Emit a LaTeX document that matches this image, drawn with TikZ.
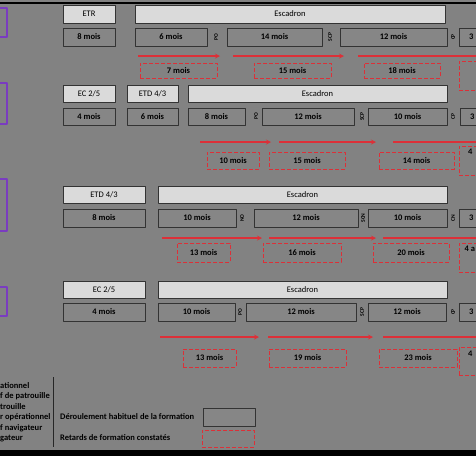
\documentclass[tikz,border=0pt]{standalone}
\usepackage{fontspec}
\setmainfont{Carlito}
\definecolor{fond}{HTML}{828282}
\definecolor{gclair}{HTML}{DADADA}
\definecolor{gmois}{HTML}{868686}
\definecolor{rouge}{HTML}{DC3038}
\definecolor{violet}{HTML}{7A3CC0}
\begin{document}
\begin{tikzpicture}[x=1pt, y=-1pt, >=stealth, line join=round,
  cadre/.style={draw=black!80, line width=0.8pt, inner sep=0pt, font=\fontsize{8.5}{9}\selectfont},
  clair/.style={cadre, fill=gclair},
  mois/.style={cadre, fill=gmois, font=\fontsize{8.5}{9}\selectfont\bfseries},
  retard/.style={draw=rouge, line width=0.9pt, dash pattern=on 4pt off 2pt, inner sep=0pt, font=\fontsize{8.5}{9}\selectfont\bfseries},
  sigle/.style={rotate=90, inner sep=0pt, font=\fontsize{5.5}{6}\selectfont\bfseries},
  fleche/.style={->, draw=rouge, line width=1.2pt},
  legende/.style={anchor=west, inner sep=0pt, font=\fontsize{8.5}{9}\selectfont\bfseries}]
\useasboundingbox (0,0) rectangle (476,456);
\clip (0,0) rectangle (476,456);
\fill[fond] (0,0) rectangle (476,456);
\draw[line width=2pt] (0,3) -- (476,3);
\fill (0,450) rectangle (476,456);
% cadres violets coupes a gauche
\draw[violet, line width=1.3pt] (-10,8) rectangle (7,37);
\draw[violet, line width=1.3pt] (-10,83) rectangle (7,124);
\draw[violet, line width=1.3pt] (-10,179) rectangle (7,231);
\draw[violet, line width=1.3pt] (-10,287) rectangle (7,316);
% ligne 1
\node[clair, minimum width=52, minimum height=18] (etrA) at (89,14) {ETR};
\node[clair, minimum width=310, minimum height=18] (escA) at (290,14) {Escadron};
\node[mois, minimum width=52, minimum height=18] (moisAa) at (89,37) {8 mois};
\node[mois, minimum width=72, minimum height=18] (moisAb) at (171,37) {6 mois};
\node[sigle] (poA) at (216,37) {PO};
\node[mois, minimum width=95, minimum height=18] (moisAc) at (274.5,37) {14 mois};
\node[sigle] (scpA) at (330,37) {SCP};
\node[mois, minimum width=107, minimum height=18] (moisAd) at (393.5,37) {12 mois};
\node[sigle] (cpA) at (453,37) {CP};
\node[mois, minimum width=41, minimum height=18, text width=21, align=left] (moisAe) at (479.5,37) {3};
\draw[fleche] (138,56) -- (220,56);
\draw[fleche] (233,56) -- (344,56);
\draw[fleche] (358,56) -- (490,56);
\node[retard, minimum width=77, minimum height=15] (retAa) at (178.5,70.5) {7 mois};
\node[retard, minimum width=77, minimum height=15] (retAb) at (292.5,70.5) {15 mois};
\node[retard, minimum width=76, minimum height=15] (retAc) at (402,70.5) {18 mois};
\node[retard, minimum width=40, minimum height=29] (retAd) at (479,75.5) {};
% ligne 2
\node[clair, minimum width=52, minimum height=17] (ecB) at (89,93.5) {EC 2/5};
\node[clair, minimum width=51, minimum height=17] (etdB) at (152.5,93.5) {ETD 4/3};
\node[clair, minimum width=259, minimum height=17] (escB) at (317.5,93.5) {Escadron};
\node[mois, minimum width=52, minimum height=17] (moisBa) at (89,116.5) {4 mois};
\node[mois, minimum width=51, minimum height=17] (moisBb) at (152.5,116.5) {6 mois};
\node[mois, minimum width=57, minimum height=17] (moisBc) at (216.5,116.5) {8 mois};
\node[sigle] (poB) at (256,116.5) {PO};
\node[mois, minimum width=92, minimum height=17] (moisBd) at (308,116.5) {12 mois};
\node[sigle] (scpB) at (362,116.5) {SCP};
\node[mois, minimum width=79, minimum height=17] (moisBe) at (407.5,116.5) {10 mois};
\node[sigle] (cpB) at (453,116.5) {CP};
\node[mois, minimum width=41, minimum height=17, text width=21, align=left] (moisBf) at (480.5,116.5) {3};
\draw[fleche] (200,142) -- (271,142);
\draw[fleche] (279,142) -- (376,142);
\draw[fleche] (393,142) -- (490,142);
\node[retard, minimum width=52, minimum height=17] (retBa) at (233,160.5) {10 mois};
\node[retard, minimum width=76, minimum height=17] (retBb) at (307,160.5) {15 mois};
\node[retard, minimum width=75, minimum height=17] (retBc) at (416.5,160.5) {14 mois};
\node[retard, minimum width=40, minimum height=29] (retBd) at (479,160.5) {};
\node[legende, anchor=north west] (txtBd) at (468,149) {4};
% ligne 3
\node[clair, minimum width=82, minimum height=17] (etdC) at (104,195) {ETD 4/3};
\node[clair, minimum width=289, minimum height=17] (escC) at (302.5,195) {Escadron};
\node[mois, minimum width=82, minimum height=18] (moisCa) at (104,218) {8 mois};
\node[mois, minimum width=78, minimum height=18] (moisCb) at (197,218) {10 mois};
\node[sigle] (noC) at (242,218) {NO};
\node[mois, minimum width=104, minimum height=18] (moisCc) at (306,218) {12 mois};
\node[sigle] (scnC) at (363,218) {SCN};
\node[mois, minimum width=79, minimum height=18] (moisCd) at (407.5,218) {10 mois};
\node[sigle] (cnC) at (453,218) {CN};
\node[mois, minimum width=41, minimum height=18, text width=21, align=left] (moisCe) at (479.5,218) {3};
\draw[fleche] (162,238) -- (262,238);
\draw[fleche] (269,238) -- (376,238);
\draw[fleche] (383,238) -- (490,238);
\node[retard, minimum width=53, minimum height=19] (retCa) at (203.5,252.5) {13 mois};
\node[retard, minimum width=78, minimum height=19] (retCb) at (302,252.5) {16 mois};
\node[retard, minimum width=76, minimum height=19] (retCc) at (411,252.5) {20 mois};
\node[retard, minimum width=40, minimum height=29] (retCd) at (479,257.5) {};
\node[legende, anchor=north west] (txtCd) at (464.5,246) {4 a};
% ligne 4
\node[clair, minimum width=82, minimum height=17] (ecD) at (104,289.5) {EC 2/5};
\node[clair, minimum width=289, minimum height=17] (escD) at (302.5,289.5) {Escadron};
\node[mois, minimum width=82, minimum height=18] (moisDa) at (104,312) {4 mois};
\node[mois, minimum width=77, minimum height=18] (moisDb) at (196.5,312) {10 mois};
\node[sigle] (poD) at (240,312) {PO};
\node[mois, minimum width=110, minimum height=18] (moisDc) at (301,312) {12 mois};
\node[sigle] (scpD) at (362,312) {SCP};
\node[mois, minimum width=78, minimum height=18] (moisDd) at (407,312) {12 mois};
\node[sigle] (cpD) at (453,312) {CP};
\node[mois, minimum width=41, minimum height=18, text width=21, align=left] (moisDe) at (479.5,312) {3};
\draw[fleche] (160,337) -- (259,337);
\draw[fleche] (268,337) -- (373,337);
\draw[fleche] (383,337) -- (490,337);
\node[retard, minimum width=53, minimum height=18] (retDa) at (209.5,358) {13 mois};
\node[retard, minimum width=77, minimum height=18] (retDb) at (307.5,358) {19 mois};
\node[retard, minimum width=78, minimum height=18] (retDc) at (418,358) {23 mois};
\node[retard, minimum width=40, minimum height=28] (retDd) at (479,361) {};
\node[legende, anchor=north west] (txtDd) at (468,351) {4};
% legende
\node[legende] (sigA) at (0,386) {ationnel};
\node[legende] (sigB) at (0,396.5) {f de patrouille};
\node[legende] (sigC) at (0,407) {trouille};
\node[legende] (sigD) at (0,417.5) {r opérationnel};
\node[legende] (sigE) at (0,428) {f navigateur};
\node[legende] (sigF) at (0,439) {gateur};
\draw[line width=0.9pt, black!85] (53,377) -- (53,447);
\node[legende] (legA) at (60,417) {Déroulement habituel de la formation};
\node[legende] (legB) at (60,438) {Retards de formation constatés};
\node[cadre, fill=gmois, minimum width=52, minimum height=18] (boxA) at (229,417) {};
\node[retard, minimum width=52, minimum height=17] (boxB) at (228,438.5) {};
\end{tikzpicture}
\end{document}
